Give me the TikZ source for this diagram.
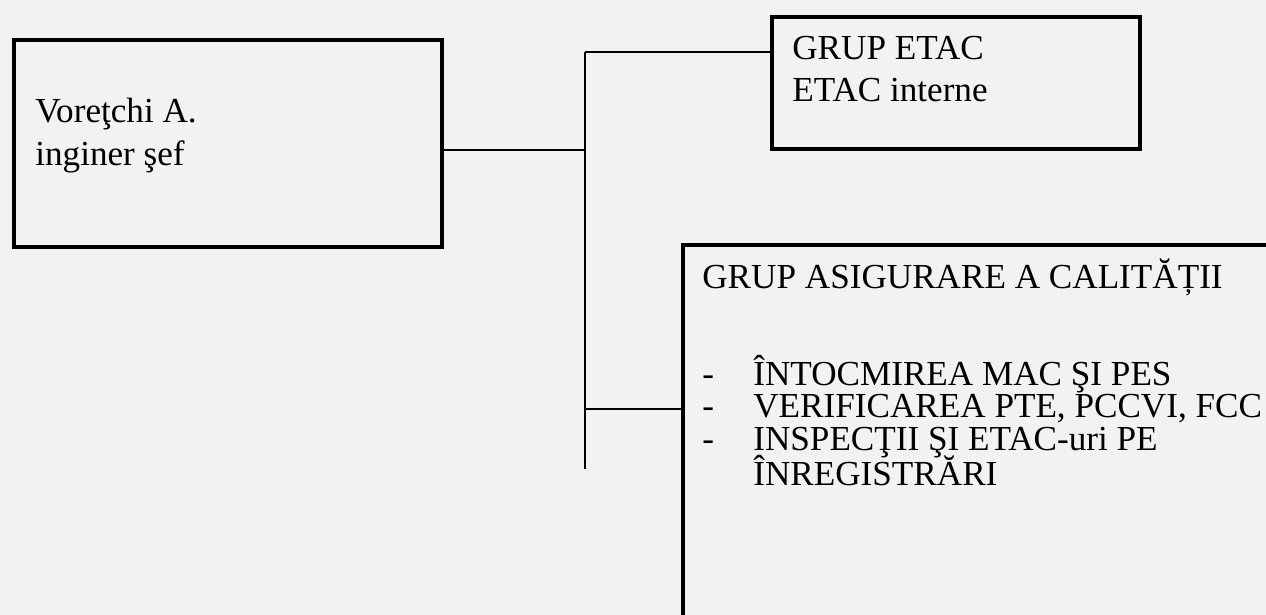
\documentclass[tikz,border=0pt]{standalone}
\usepackage{fontspec}
\setmainfont{Liberation Serif}
\begin{document}
\begin{tikzpicture}[
  box/.style={draw, line width=2pt, anchor=north west, inner sep=0pt},
  txt/.style={anchor=base west, inner sep=0pt, font=\fontsize{20}{24}\selectfont},
  wire/.style={line width=1.1pt},
]
  \fill[black!5] (0,0) rectangle (25.32,-12.3);
  \clip (0,0) rectangle (25.32,-12.3);

  % inginer sef
  \node[box, minimum width=8.56cm, minimum height=4.14cm] (sef) at (0.24,-0.76) {};
  \node[txt] (sefname) at (0.7,-2.46) {Voreţchi A.};
  \node[txt] (sefrole) at (0.7,-3.3) {inginer şef};

  % grup ETAC
  \node[box, minimum width=7.36cm, minimum height=2.64cm] (etac) at (15.4,-0.3) {};
  \node[txt] (etactitle) at (15.84,-1.2) {GRUP ETAC};
  \node[txt] (etacsub) at (15.84,-2.04) {ETAC interne};

  % grup asigurare a calitatii
  \node[box, minimum width=13cm, minimum height=8cm] (calit) at (13.62,-4.86) {};
  \node[txt] (calittitle) at (14.04,-5.76) {GRUP ASIGURARE A CALITĂȚII};
  \node[txt] (dasha) at (14.04,-7.7) {-};
  \node[txt] (itema) at (15.06,-7.7) {ÎNTOCMIREA MAC ŞI PES};
  \node[txt] (dashb) at (14.04,-8.34) {-};
  \node[txt] (itemb) at (15.06,-8.34) {VERIFICAREA PTE, PCCVI, FCC};
  \node[txt] (dashc) at (14.04,-9.0) {-};
  \node[txt] (itemc) at (15.06,-9.0) {INSPECŢII ŞI ETAC-uri PE};
  \node[txt] (itemd) at (15.06,-9.7) {ÎNREGISTRĂRI};

  % connectors
  \coordinate (trunktop) at (11.7,-1.04);
  \coordinate (trunkmid) at (11.7,-3.0);
  \coordinate (trunklow) at (11.7,-8.18);
  \coordinate (trunkend) at (11.7,-9.38);
  \draw[wire] (trunktop) -- (trunkend);
  \draw[wire] (trunkmid) -- (trunkmid -| sef.east);
  \draw[wire] (trunktop) -- (trunktop -| etac.west);
  \draw[wire] (trunklow) -- (trunklow -| calit.west);
\end{tikzpicture}
\end{document}
